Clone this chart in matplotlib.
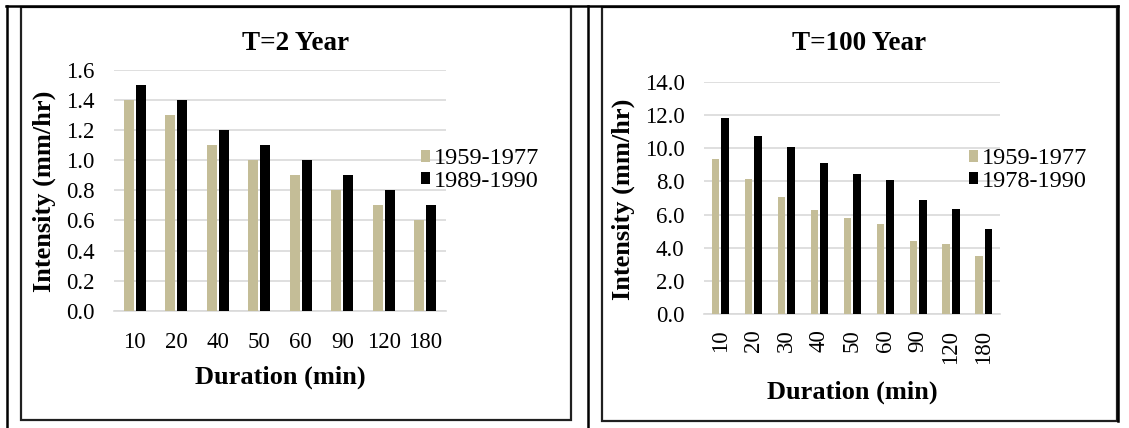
import numpy as np
import matplotlib
matplotlib.use("Agg")
import matplotlib.pyplot as plt
from matplotlib.patches import Rectangle
from matplotlib.lines import Line2D
from matplotlib.ticker import FormatStrFormatter, MultipleLocator

# data
dur_2 = ["10", "20", "40", "50", "60", "90", "120", "180"]
t2_old = [1.4, 1.3, 1.1, 1.0, 0.9, 0.8, 0.7, 0.6]
t2_new = [1.5, 1.4, 1.2, 1.1, 1.0, 0.9, 0.8, 0.7]
labels_2 = ["1959-1977", "1989-1990"]

dur_100 = ["10", "20", "30", "40", "50", "60", "90", "120", "180"]
t100_old = [9.33, 8.12, 7.06, 6.26, 5.82, 5.42, 4.43, 4.23, 3.53]
t100_new = [11.79, 10.73, 10.07, 9.11, 8.42, 8.06, 6.88, 6.32, 5.11]
labels_100 = ["1959-1977", "1978-1990"]

W, H = 1129, 428
TAN = "#C4BD97"
GRID = "#D9D9D9"

plt.rcParams["font.family"] = ["Liberation Serif", "DejaVu Serif"]

fig = plt.figure(figsize=(W / 100, H / 100), dpi=100)


def fx(x):
    return x / W


def fy(y):
    return 1 - y / H


def panel(rect, cats, old, new, labels, ymax, ystep, title, title_xy, xl_xy, yl_xy, leg_xy, rot):
    l, t, r, b = rect  # plot area in pixels
    ax = fig.add_axes([fx(l), fy(b), fx(r - l), (b - t) / H])
    x = np.arange(len(cats))
    w = 0.23
    ax.bar(x - 0.145, old, w, color=TAN, label=labels[0], zorder=3)
    ax.bar(x + 0.145, new, w, color="black", label=labels[1], zorder=3)
    ax.set_xlim(-0.5, len(cats) - 0.5)
    ax.set_ylim(0, ymax)
    ax.yaxis.set_major_locator(MultipleLocator(ystep))
    ax.yaxis.set_major_formatter(FormatStrFormatter("%.1f"))
    ax.set_xticks(x)
    ax.set_xticklabels(cats, rotation=rot)
    ax.grid(axis="y", color=GRID, lw=1.2, zorder=0)
    for s in ["top", "right", "left"]:
        ax.spines[s].set_visible(False)
    ax.spines["bottom"].set_color(GRID)
    ax.spines["bottom"].set_linewidth(1.2)
    ax.tick_params(axis="both", length=0, labelsize=16.5)
    ax.tick_params(axis="y", pad=14)
    ax.tick_params(axis="x", pad=15 if rot == 0 else 11)
    fig.text(fx(title_xy[0]), fy(title_xy[1]), title, ha="center", va="center",
             fontsize=19.5, fontweight="bold")
    fig.text(fx(xl_xy[0]), fy(xl_xy[1]), "Duration (min)", ha="center", va="center",
             fontsize=19, fontweight="bold")
    fig.text(fx(yl_xy[0]), fy(yl_xy[1]), "Intensity (mm/hr)", ha="center", va="center",
             fontsize=19, fontweight="bold", rotation=90)
    fig.legend(handles=ax.containers, labels=labels, loc="center left",
               bbox_to_anchor=(fx(leg_xy[0]), fy(leg_xy[1])), frameon=False,
               fontsize=17.5, handlelength=0.36, handleheight=0.36, handletextpad=0.15,
               labelspacing=0.05, borderpad=0, borderaxespad=0)
    return ax


panel((114, 70, 446, 310.7), dur_2, t2_old, t2_new, labels_2, 1.6, 0.2,
      "T=2 Year", (296, 43), (280, 377), (44, 191), (421, 170), 0)
panel((704, 81.7, 1000.4, 314.3), dur_100, t100_old, t100_new, labels_100, 14, 2,
      "T=100 Year", (859, 43), (852, 392), (623, 199), (969, 170), 90)

# chart boxes
for x0, x1, y1 in [(21, 571, 420), (602, 1117, 421)]:
    fig.patches.append(Rectangle((fx(x0), fy(y1)), fx(x1 - x0), (y1 - 7) / H,
                                 transform=fig.transFigure, fill=False,
                                 edgecolor="#202020", lw=1.6))

# table lines
lines = [((6.5, 6.5), (6, 428)), ((6, 1118), (6, 6)), ((588, 588), (6, 428)), ((1118, 1118), (6, 421))]
for xs, ys in lines:
    fig.add_artist(Line2D([fx(v) for v in xs], [fy(v) for v in ys], color="black", lw=1.8,
                          transform=fig.transFigure))

fig.savefig("out.png", dpi=100)
